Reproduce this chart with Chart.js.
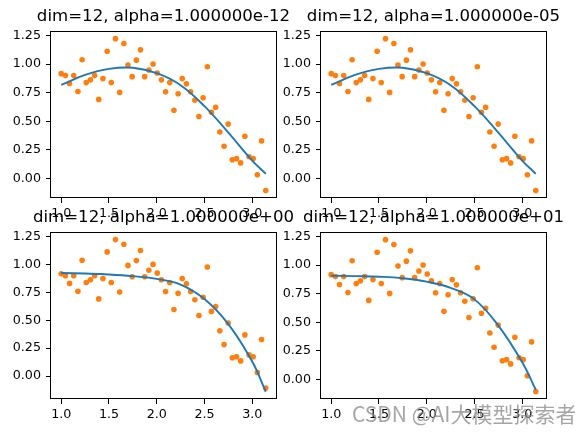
<!DOCTYPE html>
<html>
<head>
<meta charset="utf-8">
<script src="https://cdn.jsdelivr.net/npm/chart.js@4.4.1/dist/chart.umd.min.js"></script>
<style>
  html, body { margin: 0; padding: 0; background: #fff; }
  body { width: 575px; height: 433px; position: relative; overflow: hidden; }
  canvas { position: absolute; }
  #mark {
    position: absolute; left: 352px; top: 403px;
    font: 21px/21px "Noto Sans CJK SC", sans-serif;
    color: rgba(135, 135, 135, 0.75); white-space: nowrap;
  }
</style>
</head>
<body>
<canvas id="c0" width="300" height="228" style="left:0px;top:0px"></canvas>
<canvas id="c1" width="300" height="228" style="left:270px;top:0px"></canvas>
<canvas id="c2" width="300" height="228" style="left:0px;top:201px"></canvas>
<canvas id="c3" width="300" height="228" style="left:270px;top:201px"></canvas>
<div id="mark">CSDN @AI大模型探索者</div>
<script>
// Noisy samples (same in every panel)
const sampleX = [1.000, 1.044, 1.087, 1.131, 1.175, 1.219, 1.262, 1.306, 1.350, 1.393,
                 1.437, 1.481, 1.524, 1.568, 1.612, 1.656, 1.699, 1.743, 1.787, 1.830,
                 1.874, 1.918, 1.962, 2.005, 2.049, 2.093, 2.136, 2.180, 2.224, 2.267,
                 2.311, 2.355, 2.399, 2.442, 2.486, 2.530, 2.573, 2.617, 2.661, 2.705,
                 2.748, 2.792, 2.836, 2.879, 2.923, 2.967, 3.010, 3.054, 3.098, 3.142];
const sampleY = [0.916, 0.899, 0.830, 0.899, 0.760, 1.037, 0.838, 0.862, 0.899, 0.691,
                 0.873, 1.112, 0.838, 1.222, 0.752, 1.180, 0.991, 0.890, 1.034, 1.124,
                 0.890, 0.948, 1.000, 0.922, 0.862, 0.758, 0.838, 0.596, 0.741, 0.873,
                 0.827, 0.758, 0.683, 0.542, 0.706, 0.977, 0.579, 0.622, 0.406, 0.282,
                 0.475, 0.164, 0.173, 0.136, 0.369, 0.190, 0.173, 0.032, 0.328, -0.106];

// Fitted curves, read at a few x positions
const curveX = [1.0, 1.25, 1.5, 1.75, 2.0, 2.25, 2.5, 2.75, 3.0, 3.142];
const fitA = [0.818, 0.905, 0.958, 0.968, 0.920, 0.815, 0.632, 0.400, 0.156, 0.040];
const fitB = [0.818, 0.905, 0.958, 0.968, 0.920, 0.815, 0.632, 0.400, 0.156, 0.040];
const fitC = [0.923, 0.918, 0.910, 0.895, 0.870, 0.820, 0.690, 0.465, 0.130, -0.140];
const fitD = [0.907, 0.903, 0.898, 0.885, 0.855, 0.800, 0.700, 0.470, 0.150, -0.090];

const titles = ['dim=12, alpha=1.000000e-12', 'dim=12, alpha=1.000000e-05',
                'dim=12, alpha=1.000000e+00', 'dim=12, alpha=1.000000e+01'];
const xTicks = [1.0, 1.5, 2.0, 2.5, 3.0];
const yTicks = [0.00, 0.25, 0.50, 0.75, 1.00, 1.25];

const BLUE = '#1f77b4';
const ORANGE = '#ff7f0e';
const tickFont = { family: 'DejaVu Sans', size: 12.7 };

// box around the axes + title above it
const framePlugin = {
    id: 'frame',
    afterDraw(chart, args, opts) {
        const ctx = chart.ctx;
        const a = chart.chartArea;
        ctx.save();
        ctx.strokeStyle = '#000';
        ctx.lineWidth = 1;
        ctx.strokeRect(Math.round(a.left) - 0.5, Math.round(a.top) + 0.5,
                       Math.round(a.right - a.left) + 1, Math.round(a.bottom - a.top) - 1);
        ctx.fillStyle = '#000';
        ctx.font = '16.6px "DejaVu Sans"';
        ctx.textAlign = 'center';
        ctx.textBaseline = 'alphabetic';
        ctx.fillText(opts.text, (a.left + a.right) / 2, a.top - 10);
        ctx.restore();
    }
};

function makePanel(id, title, fit, yMin, yMax) {
    return new Chart(document.getElementById(id), {
        type: 'scatter',
        data: {
            datasets: [{
                data: curveX.map((x, i) => ({ x: x, y: fit[i] })),
                showLine: true,
                borderColor: BLUE,
                borderWidth: 1.9,
                pointRadius: 0,
                tension: 0.4
            }, {
                data: sampleX.map((x, i) => ({ x: x, y: sampleY[i] })),
                pointRadius: 2.8,
                pointBorderWidth: 0,
                pointBackgroundColor: ORANGE,
                backgroundColor: ORANGE
            }]
        },
        options: {
            responsive: false,
            animation: false,
            events: [],
            layout: { padding: { top: 31, right: 24, left: 0, bottom: 0 } },
            plugins: {
                legend: { display: false },
                tooltip: { enabled: false },
                frame: { text: title }
            },
            scales: {
                x: {
                    type: 'linear',
                    min: 0.893,
                    max: 3.249,
                    afterFit: s => { s.height = 30; },
                    afterBuildTicks: s => { s.ticks = xTicks.map(v => ({ value: v })); },
                    ticks: {
                        callback: v => v.toFixed(1),
                        font: tickFont, color: '#000',
                        padding: 3, maxRotation: 0, autoSkip: false
                    },
                    grid: { drawOnChartArea: false, tickLength: 5, color: '#000', lineWidth: 1 },
                    border: { display: false }
                },
                y: {
                    min: yMin,
                    max: yMax,
                    afterFit: s => { s.width = 51; },
                    afterBuildTicks: s => { s.ticks = yTicks.map(v => ({ value: v })); },
                    ticks: {
                        callback: v => v.toFixed(2),
                        font: tickFont, color: '#000',
                        padding: 5, autoSkip: false
                    },
                    grid: { drawOnChartArea: false, tickLength: 5, color: '#000', lineWidth: 1 },
                    border: { display: false }
                }
            }
        },
        plugins: [framePlugin]
    });
}

makePanel('c0', titles[0], fitA, -0.171, 1.289);
makePanel('c1', titles[1], fitB, -0.171, 1.289);
makePanel('c2', titles[2], fitC, -0.205, 1.290);
makePanel('c3', titles[3], fitD, -0.171, 1.289);
</script>
</body>
</html>
